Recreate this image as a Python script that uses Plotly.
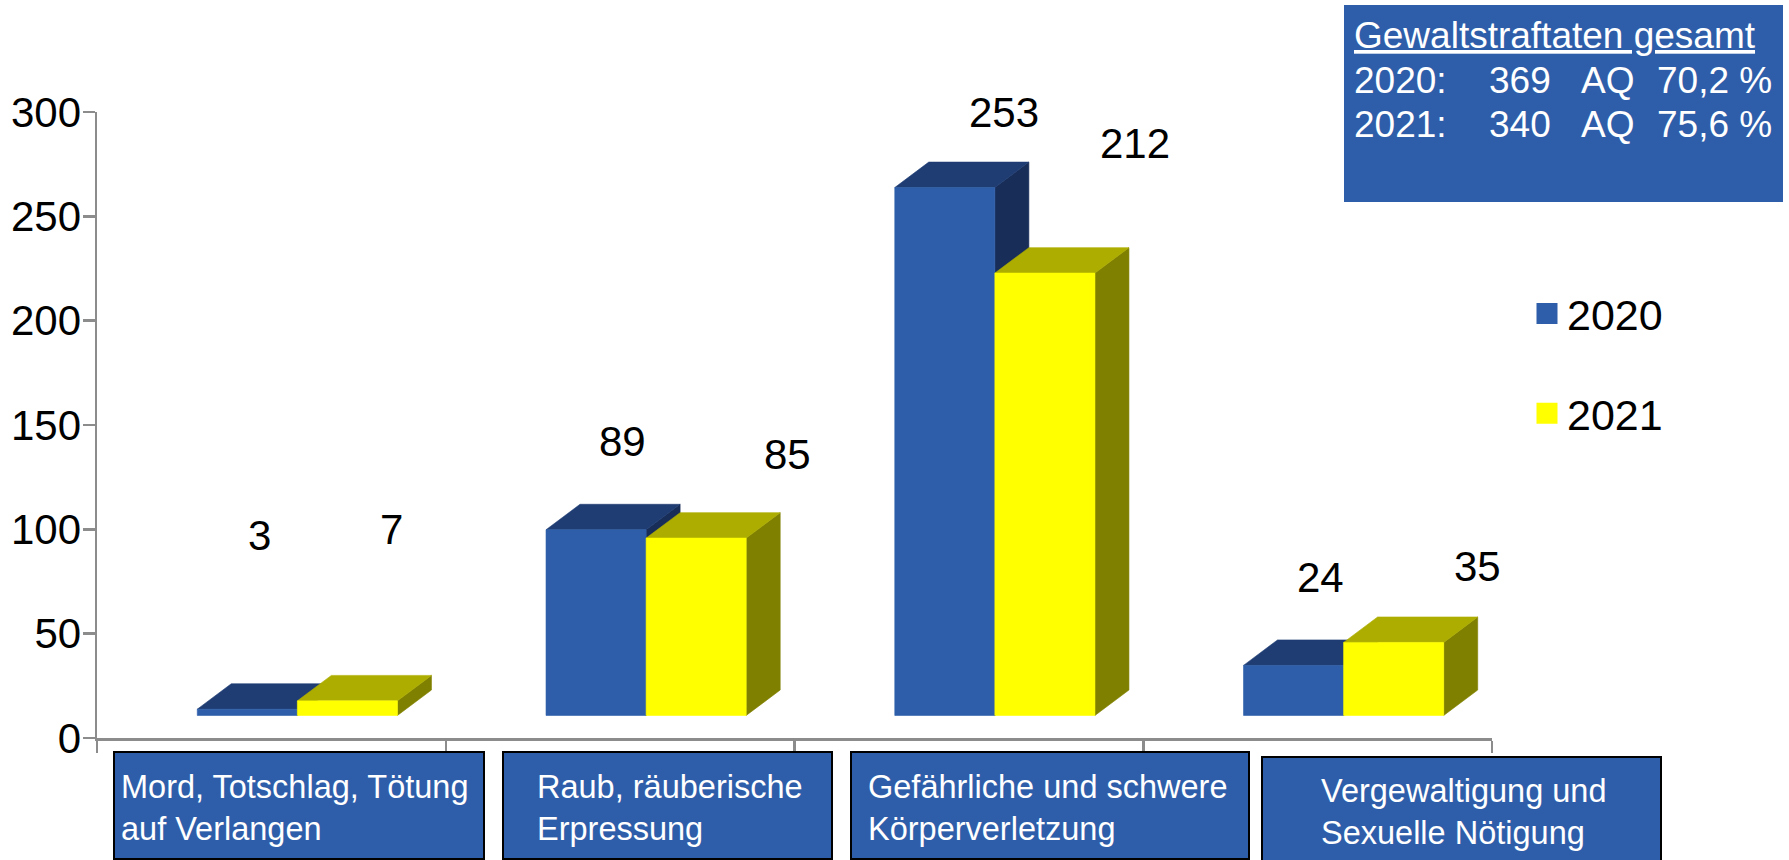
import plotly.graph_objects as go

# ---------------- data ----------------
categories = [
    "Mord, Totschlag, Tötung<br>auf Verlangen",
    "Raub, räuberische<br>Erpressung",
    "Gefährliche und schwere<br>Körperverletzung",
    "Vergewaltigung und<br>Sexuelle Nötigung",
]
series_names = ["2020", "2021"]
values_2020 = [3, 89, 253, 24]
values_2021 = [7, 85, 212, 35]
y_tick_values = [0, 50, 100, 150, 200, 250, 300]

summary_title = "Gewaltstraftaten gesamt"
summary_years = ["2020:", "2021:"]
summary_totals = ["369", "340"]
summary_labels = ["AQ", "AQ"]
summary_rates = ["70,2 %", "75,6 %"]

# ---------------- style / layout constants ----------------
W, H = 1789, 860
PL, PR, PT, PB = 97, 1492, 112, 738          # plot area in pixels
FONT = "Liberation Sans, Arial, sans-serif"
AXIS_GREY = "#8c8c8c"
BOX_BLUE = "#2E5EAA"

BLUE = dict(front="#2E5EAA", top="#1F3D73", side="#182D57")
YELLOW = dict(front="#FFFF00", top="#ADAD00", side="#808000")

BAR_W = 0.287        # bar width in category units
BLUE_OFF = -0.2125   # left edge of the 2020 bar relative to category centre
BASE = 10.8          # 3-D floor lift (axis units)
DX = 0.0975          # depth offset, x (category units)
DY = 12.2            # depth offset, y (axis units)

# label placement (layout only)
LABEL_DX = {"2020": [-0.035, 0.007, 0.101, 0.007],
            "2021": [0.344, 0.480, 0.477, 0.458]}
LABEL_RISE = {"2020": [94, 53, 47, 53],
              "2021": [93, 51, 73, 47]}

# category boxes (pixels): x0, y0, x1, y1, text-left, text-middle
CAT_BOXES = [
    (114, 752, 484, 859, 119, 808),
    (503, 752, 832, 859, 535, 808),
    (851, 752, 1249, 859, 866, 808),
    (1262, 757, 1661, 866, 1319, 812),
]
INFO_BOX = (1344, 5, 1783, 202)
INFO_COLS = [1352, 1487, 1579, 1655]
INFO_ROWS = [36, 80, 124]


def px_x(p):
    return (p - PL) / (PR - PL)


def px_y(p):
    return (PB - p) / (PB - PT)


def faces(vals, left_off):
    fx, fy, tx, ty, sx, sy = [], [], [], [], [], []
    for i, v in enumerate(vals):
        x0 = i + left_off
        x1 = x0 + BAR_W
        yb = BASE
        yt = BASE + v
        fx += [x0, x1, x1, x0, x0, None]
        fy += [yb, yb, yt, yt, yb, None]
        tx += [x0, x1, x1 + DX, x0 + DX, x0, None]
        ty += [yt, yt, yt + DY, yt + DY, yt, None]
        sx += [x1, x1 + DX, x1 + DX, x1, x1, None]
        sy += [yb, yb + DY, yt + DY, yt, yb, None]
    return (fx, fy), (tx, ty), (sx, sy)


fig = go.Figure()

for name, vals, off, col in [
    ("2020", values_2020, BLUE_OFF, BLUE),
    ("2021", values_2021, BLUE_OFF + BAR_W, YELLOW),
]:
    front, top, side = faces(vals, off)
    for (xs, ys), c in [(side, col["side"]), (top, col["top"]), (front, col["front"])]:
        fig.add_trace(go.Scatter(
            x=xs, y=ys, mode="lines", fill="toself", fillcolor=c,
            line=dict(width=0.6, color=c), hoverinfo="skip", showlegend=False,
        ))
    # legend entry
    fig.add_trace(go.Scatter(
        x=[None], y=[None], mode="markers", name=name, legendgroup=name,
        marker=dict(symbol="square", size=16, color=col["front"],
                    line=dict(width=5, color=col["front"])),
    ))

# value labels
annotations = []
for name, vals in [("2020", values_2020), ("2021", values_2021)]:
    for i, v in enumerate(vals):
        annotations.append(dict(
            x=i + LABEL_DX[name][i], y=v + LABEL_RISE[name][i], xref="x", yref="y",
            text=str(v), showarrow=False, xanchor="center", yanchor="middle",
            font=dict(family=FONT, size=42, color="black"),
        ))

shapes = []
# category boxes
for cat, (x0, y0, x1, y1, tl, tm) in zip(categories, CAT_BOXES):
    shapes.append(dict(type="rect", xref="paper", yref="paper",
                       x0=px_x(x0), x1=px_x(x1), y0=px_y(y1), y1=px_y(y0),
                       fillcolor=BOX_BLUE, line=dict(color="black", width=2),
                       layer="above"))
    annotations.append(dict(
        x=px_x(tl), y=px_y(tm), xref="paper", yref="paper", text=cat,
        showarrow=False, xanchor="left", yanchor="middle", align="left",
        font=dict(family=FONT, size=32.5, color="white"),
    ))

# summary box
bx0, by0, bx1, by1 = INFO_BOX
shapes.append(dict(type="rect", xref="paper", yref="paper",
                   x0=px_x(bx0), x1=px_x(bx1), y0=px_y(by1), y1=px_y(by0),
                   fillcolor=BOX_BLUE, line=dict(width=0), layer="above"))
annotations.append(dict(
    x=px_x(INFO_COLS[0]), y=px_y(INFO_ROWS[0]), xref="paper", yref="paper",
    text="<u>" + summary_title + "</u>", showarrow=False, xanchor="left",
    yanchor="middle", font=dict(family=FONT, size=37, color="white"),
))
for r in range(2):
    for c, txt in enumerate([summary_years[r], summary_totals[r], summary_labels[r], summary_rates[r]]):
        annotations.append(dict(
            x=px_x(INFO_COLS[c]), y=px_y(INFO_ROWS[r + 1]), xref="paper", yref="paper",
            text=txt, showarrow=False, xanchor="left", yanchor="middle",
            font=dict(family=FONT, size=37, color="white"),
        ))

fig.update_layout(
    width=W, height=H,
    margin=dict(l=PL, r=W - PR, t=PT, b=H - PB, pad=0, autoexpand=False),
    paper_bgcolor="white", plot_bgcolor="white",
    font=dict(family=FONT, color="black"),
    showlegend=True,
    legend=dict(
        x=px_x(1527), y=px_y(279), xanchor="left", yanchor="top",
        font=dict(family=FONT, size=43, color="black"),
        bgcolor="rgba(0,0,0,0)", traceorder="grouped", tracegroupgap=41,
        itemclick=False, itemdoubleclick=False,
    ),
    xaxis=dict(
        range=[-0.5, len(categories) - 0.5],
        tickmode="array", tickvals=[i - 0.5 for i in range(len(categories) + 1)],
        showticklabels=False, ticks="outside", ticklen=12, tickwidth=2.5,
        tickcolor=AXIS_GREY, showline=True, linecolor=AXIS_GREY, linewidth=2.5,
        showgrid=False, zeroline=False, fixedrange=True, automargin=False,
    ),
    yaxis=dict(
        range=[0, 300], tickmode="array", tickvals=y_tick_values,
        ticks="outside", ticklen=12, tickwidth=2.5, tickcolor=AXIS_GREY,
        tickfont=dict(family=FONT, size=42, color="black"),
        ticklabelstandoff=-7,
        showline=True, linecolor=AXIS_GREY, linewidth=2.5,
        showgrid=False, zeroline=False, fixedrange=True, automargin=False,
    ),
    shapes=shapes,
    annotations=annotations,
)

fig.write_html(
    "out.html",
    config={"displayModeBar": False, "staticPlot": True},
    post_script="document.body.style.margin='0px';document.documentElement.style.overflow='hidden';",
)
